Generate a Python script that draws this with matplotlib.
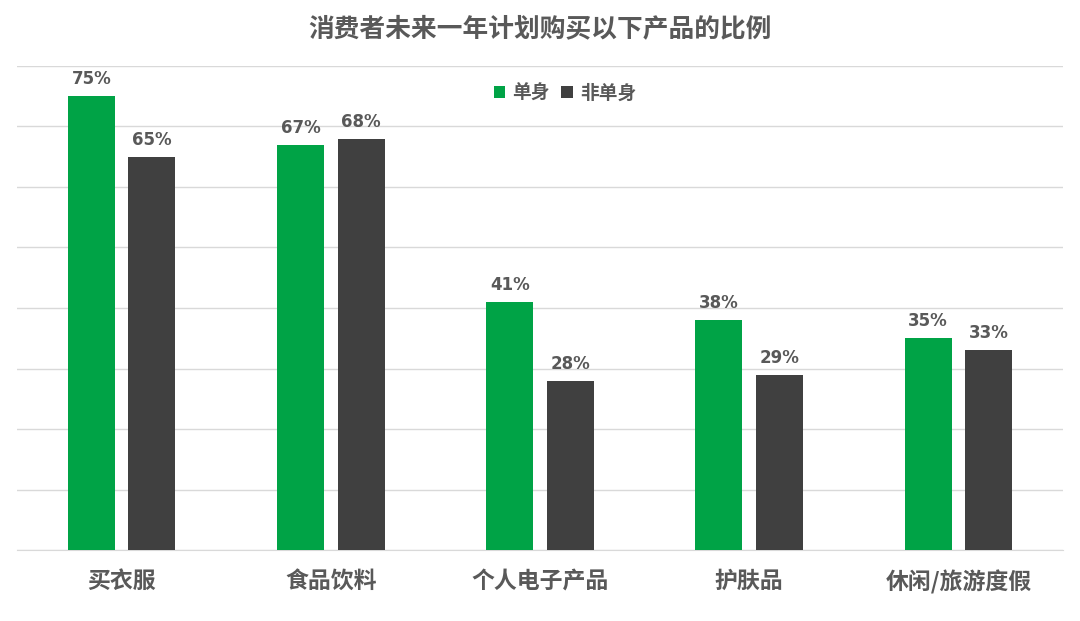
import matplotlib.pyplot as plt
import numpy as np

plt.rcParams['font.family'] = ['Noto Sans CJK SC', 'DejaVu Sans']

categories = ["买衣服", "食品饮料", "个人电子产品", "护肤品", "休闲/旅游度假"]
single = [75, 67, 41, 38, 35]
non_single = [65, 68, 28, 29, 33]
series_names = ["单身", "非单身"]

green = "#00A346"
dark = "#404040"
text_grey = "#595959"

fig = plt.figure(figsize=(10.8, 6.21), dpi=100)
ax = fig.add_axes([17 / 1080, 71 / 621, 1046 / 1080, 484 / 621])

x = np.arange(len(categories))
w = 0.225
off = 0.145
b1 = ax.bar(x - off, single, w, color=green, label=series_names[0], zorder=3)
b2 = ax.bar(x + off, non_single, w, color=dark, label=series_names[1], zorder=3)

for bars, vals in [(b1, single), (b2, non_single)]:
    for b, v in zip(bars, vals):
        ax.text(b.get_x() + b.get_width() / 2, v + 1.3, f"{v}%", ha="center", va="bottom",
                fontsize=12, fontweight="bold", color=text_grey, family="DejaVu Sans")

ax.set_xlim(-0.5, len(categories) - 0.5)
ax.set_ylim(0, 80)
ax.set_yticks(np.arange(0, 81, 10))
ax.yaxis.grid(True, color="#D9D9D9", linewidth=1, zorder=0)
ax.tick_params(axis="y", left=False, labelleft=False)
ax.tick_params(axis="x", bottom=False, labelsize=16.5, labelcolor=text_grey, pad=11)
ax.set_xticks(x)
ax.set_xticklabels(categories, fontweight="bold")
for s in ["left", "right", "top"]:
    ax.spines[s].set_visible(False)
ax.spines["bottom"].set_color("#D9D9D9")

leg = ax.legend(loc="upper center", bbox_to_anchor=(0.524, 0.998), ncol=2, frameon=False,
                prop={"size": 13.5, "weight": "bold"}, handlelength=0.6, handleheight=0.6,
                handletextpad=0.4, columnspacing=0.6)
for t in leg.get_texts():
    t.set_color(text_grey)

fig.text(0.5, 0.954, "消费者未来一年计划购买以下产品的比例", ha="center", va="center",
         fontsize=18.5, fontweight="bold", color=text_grey)

fig.savefig("out.png", dpi=100)
